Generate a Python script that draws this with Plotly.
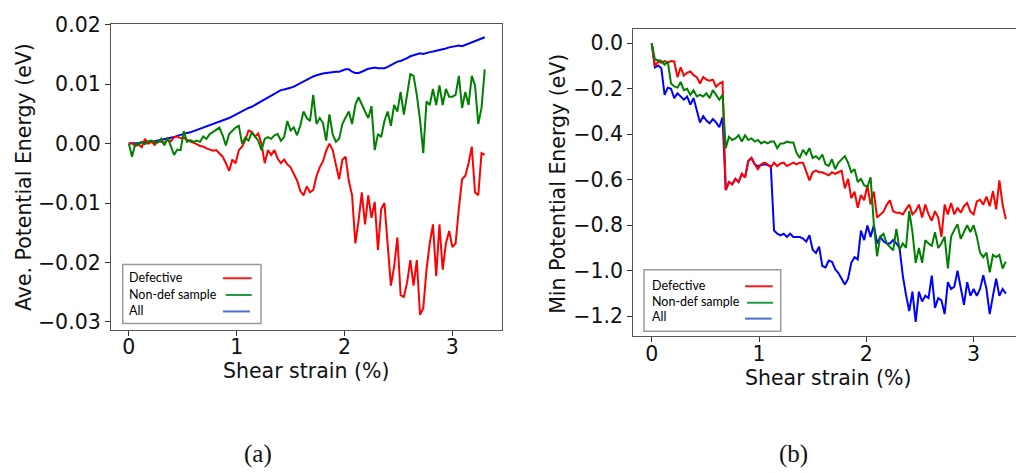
import plotly.graph_objects as go

W, H = 1016, 473

# Shear strain (%) sampling shared by every curve
strain = [
    0.00, 0.03, 0.06, 0.09, 0.12, 0.15, 0.18, 0.21, 0.24, 0.27,
    0.30, 0.33, 0.36, 0.39, 0.42, 0.45, 0.48, 0.51, 0.54, 0.57,
    0.60, 0.63, 0.66, 0.69, 0.72, 0.75, 0.78, 0.81, 0.84, 0.87,
    0.90, 0.93, 0.96, 0.99, 1.02, 1.05, 1.08, 1.11, 1.14, 1.17,
    1.20, 1.23, 1.26, 1.29, 1.32, 1.35, 1.38, 1.41, 1.44, 1.47,
    1.50, 1.53, 1.56, 1.59, 1.62, 1.65, 1.68, 1.71, 1.74, 1.77,
    1.80, 1.83, 1.86, 1.89, 1.92, 1.95, 1.98, 2.01, 2.04, 2.07,
    2.10, 2.13, 2.16, 2.19, 2.22, 2.25, 2.28, 2.31, 2.34, 2.37,
    2.40, 2.43, 2.46, 2.49, 2.52, 2.55, 2.58, 2.61, 2.64, 2.67,
    2.70, 2.73, 2.76, 2.79, 2.82, 2.85, 2.88, 2.91, 2.94, 2.97,
    3.00, 3.03, 3.06, 3.09, 3.12, 3.15, 3.18, 3.21, 3.24, 3.27,
    3.30,
]

# (a) Average potential energy change (eV)
ave_defective = [
    0.0000, 0.0001, -0.0004, -0.0002, -0.0006, 0.0008, 0.0000, 0.0003, -0.0002, 0.0004,
    0.0003, 0.0001, 0.0006, 0.0004, 0.0011, 0.0012, 0.0009, 0.0010, 0.0006, 0.0004,
    0.0002, -0.0001, -0.0004, -0.0005, -0.0008, -0.0010, -0.0012, -0.0011, -0.0016, -0.0022,
    -0.0033, -0.0046, -0.0027, -0.0033, -0.0011, -0.0005, 0.0006, 0.0022, 0.0020, 0.0012,
    0.0017, 0.0000, -0.0033, -0.0011, -0.0019, -0.0011, -0.0025, -0.0033, -0.0027, -0.0035,
    -0.0040, -0.0050, -0.0062, -0.0080, -0.0087, -0.0072, -0.0082, -0.0078, -0.0055, -0.0040,
    -0.0030, -0.0012, 0.0000, -0.0011, -0.0033, -0.0060, -0.0027, -0.0022, -0.0063, -0.0087,
    -0.0168, -0.0130, -0.0082, -0.0136, -0.0087, -0.0125, -0.0098, -0.0179, -0.0110, -0.0100,
    -0.0170, -0.0239, -0.0207, -0.0158, -0.0255, -0.0258, -0.0234, -0.0196, -0.0239, -0.0196,
    -0.0288, -0.0277, -0.0212, -0.0168, -0.0136, -0.0223, -0.0136, -0.0212, -0.0168, -0.0147,
    -0.0174, -0.0168, -0.0109, -0.0060, -0.0054, -0.0033, -0.0005, -0.0082, -0.0087, -0.0016,
    -0.0019,
]
ave_nondef = [
    0.0000, -0.0022, 0.0000, -0.0002, 0.0003, -0.0001, 0.0004, 0.0005, 0.0002, 0.0002,
    0.0008, -0.0003, 0.0010, -0.0004, -0.0019, -0.0010, -0.0011, 0.0021, 0.0003, 0.0006,
    0.0003, 0.0005, 0.0003, 0.0012, 0.0008, 0.0016, 0.0020, 0.0024, 0.0027, 0.0014,
    -0.0003, 0.0016, 0.0022, 0.0027, 0.0030, 0.0000, 0.0010, 0.0005, 0.0019, 0.0011,
    0.0005, -0.0011, 0.0008, 0.0011, 0.0008, 0.0014, 0.0016, 0.0005, 0.0011, 0.0038,
    0.0022, 0.0027, 0.0014, 0.0030, 0.0054, 0.0043, 0.0038, 0.0082, 0.0033, 0.0043,
    0.0035, 0.0005, 0.0049, 0.0016, 0.0003, 0.0008, 0.0033, 0.0044, 0.0054, 0.0033,
    0.0065, 0.0078, 0.0065, 0.0054, 0.0043, 0.0063, -0.0011, 0.0016, 0.0011, 0.0038,
    0.0054, 0.0030, 0.0065, 0.0054, 0.0087, 0.0049, 0.0082, 0.0117, 0.0114, 0.0082,
    0.0040, -0.0016, 0.0071, 0.0065, 0.0092, 0.0065, 0.0098, 0.0065, 0.0092, 0.0079,
    0.0079, 0.0082, 0.0114, 0.0060, 0.0087, 0.0065, 0.0114, 0.0098, 0.0033, 0.0060,
    0.0125,
]
ave_all = [
    0.0000, 0.0000, 0.0001, 0.0001, 0.0002, 0.0002, 0.0003, 0.0003, 0.0004, 0.0005,
    0.0006, 0.0007, 0.0008, 0.0010, 0.0011, 0.0013, 0.0015, 0.0016, 0.0018, 0.0019,
    0.0021, 0.0023, 0.0024, 0.0026, 0.0028, 0.0030, 0.0032, 0.0034, 0.0036, 0.0038,
    0.0041, 0.0043, 0.0046, 0.0049, 0.0052, 0.0055, 0.0057, 0.0060, 0.0062, 0.0065,
    0.0068, 0.0071, 0.0074, 0.0078, 0.0081, 0.0084, 0.0087, 0.0090, 0.0091, 0.0092,
    0.0094, 0.0096, 0.0099, 0.0102, 0.0105, 0.0107, 0.0110, 0.0113, 0.0115, 0.0117,
    0.0118, 0.0119, 0.0120, 0.0120, 0.0121, 0.0121, 0.0123, 0.0125, 0.0125, 0.0121,
    0.0119, 0.0119, 0.0121, 0.0124, 0.0126, 0.0127, 0.0128, 0.0127, 0.0127, 0.0127,
    0.0129, 0.0132, 0.0135, 0.0138, 0.0139, 0.0141, 0.0144, 0.0147, 0.0149, 0.0151,
    0.0152, 0.0151, 0.0153, 0.0154, 0.0155, 0.0156, 0.0157, 0.0158, 0.0160, 0.0162,
    0.0163, 0.0164, 0.0165, 0.0164, 0.0166, 0.0168, 0.0170, 0.0172, 0.0174, 0.0176,
    0.0179,
]

# (b) Minimum potential energy change (eV)
min_defective = [
    0.000, -0.100, -0.080, -0.085, -0.078, -0.085, -0.078, -0.080, -0.149, -0.106,
    -0.142, -0.130, -0.124, -0.140, -0.149, -0.177, -0.149, -0.160, -0.165, -0.160,
    -0.191, -0.177, -0.170, -0.645, -0.610, -0.620, -0.596, -0.610, -0.574, -0.590,
    -0.518, -0.504, -0.532, -0.553, -0.532, -0.525, -0.532, -0.546, -0.525, -0.540,
    -0.528, -0.525, -0.540, -0.532, -0.525, -0.532, -0.525, -0.525, -0.560, -0.603,
    -0.567, -0.560, -0.567, -0.567, -0.574, -0.580, -0.567, -0.574, -0.567, -0.560,
    -0.638, -0.596, -0.681, -0.652, -0.723, -0.667, -0.690, -0.624, -0.709, -0.652,
    -0.766, -0.752, -0.740, -0.710, -0.690, -0.738, -0.745, -0.745, -0.752, -0.730,
    -0.709, -0.752, -0.738, -0.709, -0.766, -0.709, -0.752, -0.780, -0.738, -0.766,
    -0.851, -0.709, -0.752, -0.702, -0.752, -0.723, -0.745, -0.716, -0.702, -0.740,
    -0.752, -0.695, -0.688, -0.709, -0.674, -0.716, -0.650, -0.730, -0.603, -0.709,
    -0.773,
]
min_nondef = [
    0.000, -0.071, -0.075, -0.078, -0.095, -0.080, -0.177, -0.190, -0.195, -0.170,
    -0.206, -0.200, -0.227, -0.206, -0.234, -0.227, -0.234, -0.220, -0.241, -0.206,
    -0.227, -0.248, -0.227, -0.461, -0.411, -0.425, -0.418, -0.404, -0.432, -0.404,
    -0.425, -0.418, -0.432, -0.425, -0.440, -0.432, -0.440, -0.432, -0.432, -0.461,
    -0.440, -0.440, -0.432, -0.436, -0.436, -0.482, -0.504, -0.468, -0.489, -0.461,
    -0.504, -0.496, -0.510, -0.489, -0.532, -0.539, -0.510, -0.553, -0.525, -0.510,
    -0.496, -0.525, -0.567, -0.553, -0.610, -0.596, -0.624, -0.631, -0.589, -0.794,
    -0.936, -0.850, -0.837, -0.880, -0.895, -0.910, -0.816, -0.908, -0.880, -0.900,
    -0.738, -0.830, -0.965, -0.900, -0.965, -0.865, -0.880, -0.890, -0.830, -0.900,
    -0.880, -0.850, -0.990, -0.850, -0.820, -0.795, -0.860, -0.830, -0.800, -0.830,
    -0.800, -0.850, -0.920, -0.940, -0.920, -1.007, -0.930, -0.940, -0.930, -0.990,
    -0.960,
]
min_all = [
    0.000, -0.106, -0.098, -0.110, -0.227, -0.195, -0.200, -0.241, -0.220, -0.234,
    -0.248, -0.234, -0.270, -0.241, -0.291, -0.348, -0.320, -0.340, -0.352, -0.333,
    -0.348, -0.369, -0.326, -0.645, -0.610, -0.620, -0.596, -0.610, -0.574, -0.590,
    -0.518, -0.504, -0.532, -0.540, -0.535, -0.532, -0.535, -0.540, -0.823, -0.837,
    -0.844, -0.837, -0.851, -0.837, -0.851, -0.851, -0.851, -0.858, -0.872, -0.844,
    -0.908, -0.922, -0.894, -0.979, -0.985, -0.955, -0.960, -0.993, -1.010, -1.035,
    -1.060, -1.035, -0.965, -0.940, -0.950, -0.823, -0.865, -0.801, -0.851, -0.800,
    -0.880, -0.850, -0.870, -0.880, -0.880, -0.865, -0.880, -0.900, -1.021, -1.106,
    -1.177, -1.092, -1.225, -1.092, -1.135, -1.110, -1.120, -1.021, -1.163, -1.120,
    -1.130, -1.190, -1.050, -1.080, -1.070, -1.000, -1.080, -1.150, -1.050, -1.110,
    -1.080, -1.110, -1.080, -1.020, -1.080, -1.190, -1.110, -1.035, -1.110, -1.080,
    -1.100,
]

series_names = ["Defective", "Non-def sample", "All"]

strain_ticks = [0, 1, 2, 3]
ave_ticks = [0.02, 0.01, 0.0, -0.01, -0.02, -0.03]
ave_ticktext = ["0.02", "0.01", "0.00", "\u22120.01", "\u22120.02", "\u22120.03"]
min_ticks = [0.0, -0.2, -0.4, -0.6, -0.8, -1.0, -1.2]
min_ticktext = ["0.0", "\u22120.2", "\u22120.4", "\u22120.6", "\u22120.8", "\u22121.0", "\u22121.2"]

LINE_COLORS = {"Defective": "#ff0000", "Non-def sample": "#008000", "All": "#0000ff"}
KEY_COLORS = {"Defective": "#f41e1e", "Non-def sample": "#1f9a45", "All": "#4b6fcf"}

AX_FONT = dict(family="DejaVu Sans", size=20.5, color="#111111")


def px_x(px):
    return px / W


def px_y(py):
    return 1 - py / H


fig = go.Figure()

panels = [
    ("x", "y", {"Defective": ave_defective, "Non-def sample": ave_nondef, "All": ave_all}),
    ("x2", "y2", {"Defective": min_defective, "Non-def sample": min_nondef, "All": min_all}),
]
for xa, ya, data in panels:
    for name in ["All", "Defective", "Non-def sample"]:
        fig.add_trace(go.Scatter(
            x=strain, y=data[name], mode="lines", name=name, showlegend=False,
            line=dict(color=LINE_COLORS[name], width=2),
            xaxis=xa, yaxis=ya,
        ))

axis_common = dict(
    showgrid=False, zeroline=False, ticks="outside", ticklen=5, tickwidth=1,
    tickcolor="#333333", showline=True, linecolor="#555555", linewidth=1.3,
    tickfont=AX_FONT,
)

fig.update_layout(
    width=W, height=H, autosize=False,
    margin=dict(l=0, r=0, t=0, b=0),
    paper_bgcolor="white", plot_bgcolor="white",
    xaxis=dict(domain=[px_x(111), px_x(502)], range=[-0.165, 3.46],
               tickvals=strain_ticks, mirror=True, anchor="y",
               ticklabelstandoff=-6, **axis_common),
    yaxis=dict(domain=[px_y(329), px_y(13)], range=[-0.0313, 0.0202],
               tickvals=ave_ticks, ticktext=ave_ticktext, mirror=True,
               anchor="x", **axis_common),
    xaxis2=dict(domain=[px_x(633.3), 1.0], range=[-0.1715, 3.395],
                tickvals=strain_ticks, mirror=True, anchor="y2",
                ticklabelstandoff=-6, **axis_common),
    yaxis2=dict(domain=[px_y(335.7), px_y(19)], range=[-1.2868, 0.0609],
                tickvals=min_ticks, ticktext=min_ticktext, mirror=False,
                anchor="x2", **axis_common),
)

annotations = []
shapes = []

# Axis titles
TITLE_FONT = dict(family="DejaVu Sans", size=20.5, color="#111111")
for text, cx, cy, ang in [
    ("Shear strain (%)", 306.6, 372, 0),
    ("Ave. Potential Energy (eV)", 23.5, 172, -90),
    ("Shear strain (%)", 828.4, 379, 0),
    ("Min Potential Energy (eV)", 558.5, 179, -90),
]:
    annotations.append(dict(
        text=text, x=px_x(cx), y=px_y(cy), xref="paper", yref="paper",
        xanchor="center", yanchor="middle", showarrow=False, textangle=ang,
        font=TITLE_FONT,
    ))

# Sub-figure captions
for text, cx in [("(a)", 258), ("(b)", 793)]:
    annotations.append(dict(
        text=text, x=px_x(cx), y=px_y(458), xref="paper", yref="paper",
        xanchor="center", yanchor="middle", showarrow=False,
        font=dict(family="Liberation Serif", size=25, color="#111111"),
    ))

# Hand-built keys: label on the left, sample line on the right
keys = [
    dict(box=(122.7, 261.7, 261, 322.7), text_x=127.3,
         rows=[(275.5, 223, 251.7, 276), (292.5, 225.7, 251.7, 293.3), (309, 223, 250, 310.3)]),
    dict(box=(644, 267.3, 780.7, 330.7), text_x=650,
         rows=[(283.3, 745, 772.7, 284.3), (299.5, 747, 773, 301.3), (315.5, 745, 771.7, 317.7)]),
]
for key in keys:
    x0, y0, x1, y1 = key["box"]
    shapes.append(dict(
        type="rect", xref="paper", yref="paper",
        x0=px_x(x0), x1=px_x(x1), y0=px_y(y1), y1=px_y(y0),
        line=dict(color="#9a9a9a", width=1.5), fillcolor="white", layer="above",
    ))
    for name, (ty, lx0, lx1, ly) in zip(series_names, key["rows"]):
        annotations.append(dict(
            text=name, x=px_x(key["text_x"]), y=px_y(ty), xref="paper", yref="paper",
            xanchor="left", yanchor="middle", showarrow=False,
            font=dict(family="Lato", size=12.5, color="#000000"),
        ))
        shapes.append(dict(
            type="line", xref="paper", yref="paper",
            x0=px_x(lx0), x1=px_x(lx1), y0=px_y(ly), y1=px_y(ly),
            line=dict(color=KEY_COLORS[name], width=2), layer="above",
        ))

fig.update_layout(annotations=annotations, shapes=shapes)

fig.write_html("out.html")
